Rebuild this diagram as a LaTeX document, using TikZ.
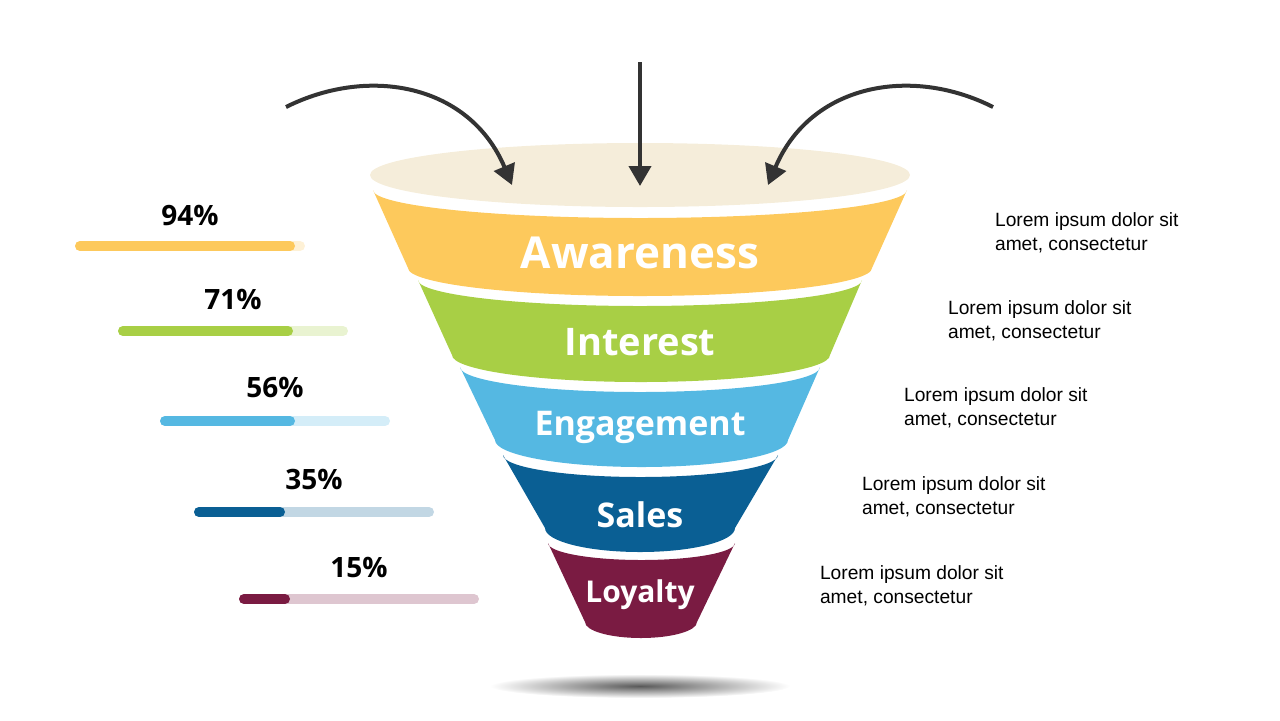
\documentclass[tikz,border=0pt]{standalone}
\usepackage{fontspec}
\setmainfont{Liberation Sans}
\newfontfamily\headfont{Open Sans}
\usetikzlibrary{arrows.meta,positioning,calc}
\definecolor{cbeige}{HTML}{F5EDDA}
\definecolor{cyel}{HTML}{FDC95C}
\definecolor{cgreen}{HTML}{A8CF45}
\definecolor{cblue}{HTML}{55B8E2}
\definecolor{cdblue}{HTML}{0A5F94}
\definecolor{cmaroon}{HTML}{7A1B42}
\definecolor{cdark}{HTML}{333333}
\begin{document}
\begin{tikzpicture}[x=0.5pt,y=-0.5pt]
        \useasboundingbox (0,0) rectangle (1280,720);
        %styles
        \tikzset{
          stage/.style={text=white, font=\headfont\bfseries},
          pct/.style={font=\headfont\bfseries\fontsize{14}{16}\selectfont},
          desc/.style={align=left, anchor=north west, font=\fontsize{9.6}{12}\selectfont},
          bar/.style={line width=5pt, line cap=round},
          flow/.style={cdark, line width=2pt, -{Triangle[length=10pt,width=11pt]}}
        }
        %shadow
        \shade[inner color=black!65, outer color=white] (640,686) ellipse[x radius=150, y radius=12];
        %funnel
        \fill[cbeige] (640,175) ellipse[x radius=270, y radius=32];
        \fill[cyel] (373,190) arc[start angle=180,end angle=0,x radius=267,y radius=28]
          -- (872,268) arc[start angle=0,end angle=180,x radius=232,y radius=28] -- cycle;
        \fill[cgreen] (418,280) arc[start angle=180,end angle=0,x radius=222,y radius=26]
          -- (830,355) arc[start angle=0,end angle=180,x radius=189,y radius=27] -- cycle;
        \fill[cblue] (460,367) arc[start angle=180,end angle=0,x radius=180,y radius=25]
          -- (788,440) arc[start angle=0,end angle=180,x radius=146.5,y radius=27] -- cycle;
        \fill[cdblue] (503,455) arc[start angle=180,end angle=0,x radius=137.5,y radius=22]
          -- (735,528) arc[start angle=0,end angle=180,x radius=95,y radius=24] -- cycle;
        \fill[cmaroon] (548,543) arc[start angle=180,end angle=0,x radius=93.5,y radius=17]
          -- (697,622) arc[start angle=0,end angle=180,x radius=56,y radius=16] -- cycle;
        %stage names
        \node[stage, font=\headfont\bfseries\fontsize{22}{24}\selectfont] (aw) at (640,253) {Awareness};
        \node[stage, font=\headfont\bfseries\fontsize{19}{21}\selectfont] (in) at (640,342) {Interest};
        \node[stage, font=\headfont\bfseries\fontsize{17}{19}\selectfont] (en) at (640,427) {Engagement};
        \node[stage, font=\headfont\bfseries\fontsize{17}{19}\selectfont] (sa) at (640,515) {Sales};
        \node[stage, font=\headfont\bfseries\fontsize{15}{17}\selectfont] (lo) at (640,595) {Loyalty};
        %arrows
        \coordinate (lstart) at (286,107);
        \coordinate (lend) at (512,185);
        \coordinate (mstart) at (640,62);
        \coordinate (mend) at (640,186);
        \coordinate (rstart) at (993,107);
        \coordinate (rend) at (768,185);
        \draw[flow] (lstart) .. controls (370,65) and (470,85) .. (lend);
        \draw[flow] (mstart) -- (mend);
        \draw[flow] (rstart) .. controls (910,65) and (810,85) .. (rend);
        %percent bars
        \foreach \c/\xa/\xf/\xb/\y/\p/\ty in {cyel/80/290/300/246/94/215, cgreen/123/288/343/331/71/299,
            cblue/165/290/385/421/56/387, cdblue/199/280/429/512/35/479, cmaroon/244/285/474/599/15/567}{
          \draw[bar, \c!25] (\xa,\y) -- (\xb,\y);
          \draw[bar, \c] (\xa,\y) -- (\xf,\y);
          \node[pct] at ({(\xa+\xb)/2},\ty) {\p\%};
        }
        %descriptions
        \node[desc] (d1) at (988,206) {Lorem ipsum dolor sit\\amet, consectetur};
        \node[desc] (d2) at (941,294) {Lorem ipsum dolor sit\\amet, consectetur};
        \node[desc] (d3) at (897,381) {Lorem ipsum dolor sit\\amet, consectetur};
        \node[desc] (d4) at (855,470) {Lorem ipsum dolor sit\\amet, consectetur};
        \node[desc] (d5) at (813,559) {Lorem ipsum dolor sit\\amet, consectetur};
\end{tikzpicture}
\end{document}
